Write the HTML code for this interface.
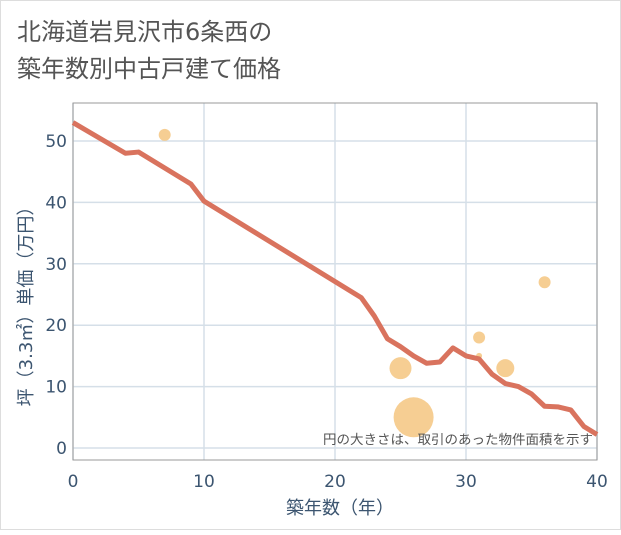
<!DOCTYPE html>
<html><head><meta charset="utf-8"><style>
body{margin:0;background:#fff;}
svg text{font-family:"DejaVu Sans","Noto Sans CJK JP",sans-serif;}
</style></head><body>
<svg id="c" width="621" height="530" xmlns="http://www.w3.org/2000/svg">
<rect x="0.5" y="0.5" width="620" height="529" fill="#fff" stroke="#ddd"/>
<text x="17" y="40" font-size="24" fill="#555">北海道岩見沢市6条西の</text>
<text x="17" y="77" font-size="24" fill="#555">築年数別中古戸建て価格</text>
<g id="grid"></g>
<rect x="73" y="103" width="524" height="357" fill="none" stroke="#999" stroke-width="1"/>
<g id="ticks"></g>
<g id="bubbles"></g>
<g id="line"></g>
<text x="593" y="444" font-size="13" fill="#555" text-anchor="end" textLength="270" lengthAdjust="spacingAndGlyphs">円の大きさは、取引のあった物件面積を示す</text>
<text x="340" y="514" font-size="18" fill="#3c5570" text-anchor="middle">築年数（年）</text>
<text transform="translate(32,302) rotate(-90)" font-size="18" fill="#3c5570" text-anchor="middle">坪（3.3㎡）単価（万円）</text>
</svg>
<script>
const xTicks=[0,10,20,30,40];
const yTicks=[0,10,20,30,40,50];
const lineYears=[0,4,5,9,10,22,23,24,25,26,27,28,29,30,31,32,33,34,35,36,37,38,39,40];
const linePrices=[53,48,48.2,43,40.2,24.5,21.5,17.8,16.5,15,13.8,14,16.3,15,14.5,12,10.5,10,8.8,6.8,6.7,6.2,3.5,2.2];
const bubbleYears=[7,25,26,31,31,33,36];
const bubblePrices=[51,13,5,18,15,13,27];
const bubbleSizes=[6,11,20,6,3,9,6];
const NS="http://www.w3.org/2000/svg";
const X=v=>73+v*13.1, Y=v=>448-v*6.14;
function mk(t,a,p){const e=document.createElementNS(NS,t);for(const k in a)e.setAttribute(k,a[k]);document.getElementById(p).appendChild(e);return e;}
xTicks.forEach(v=>{
 const g=mk('line',{x1:X(v),x2:X(v),y1:103,y2:460,stroke:'#d5dfe8','stroke-width':1.5},'grid');
 
 
 const t=mk('text',{x:X(v),y:487,'font-size':17,fill:'#3c5570','text-anchor':'middle'},'ticks');t.textContent=v;
 
 
});
yTicks.forEach(v=>{
 const g=mk('line',{x1:73,x2:597,y1:Y(v),y2:Y(v),stroke:'#d5dfe8','stroke-width':1.5},'grid');
 
 
 const t=mk('text',{x:67,y:Y(v)+6,'font-size':17,fill:'#3c5570','text-anchor':'end'},'ticks');t.textContent=v;
 
 
});
bubbleYears.forEach((v,i)=>{
 const c=mk('circle',{cx:X(v),cy:Y(bubblePrices[i]),r:bubbleSizes[i],fill:'#f5c987','fill-opacity':0.9},'bubbles');
 
 
});
const pts=lineYears.map((v,i)=>X(v)+','+Y(linePrices[i])).join(' ');
const pl=mk('polyline',{points:pts,fill:'none',stroke:'#d9735e','stroke-width':5,'stroke-linejoin':'round'},'line');


</script>
</body></html>
